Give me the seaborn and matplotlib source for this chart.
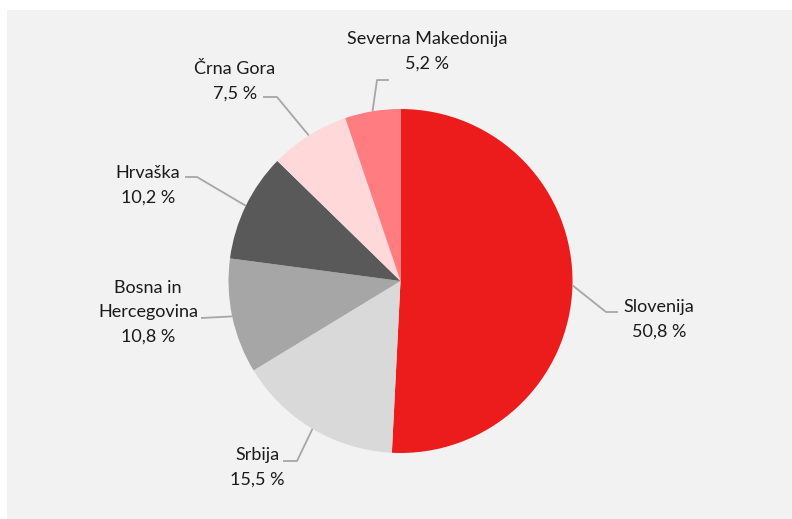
import numpy as np
import matplotlib
matplotlib.use("Agg")
import matplotlib.pyplot as plt
import seaborn as sns

# ---- data ----
countries = ["Slovenija", "Srbija", "Bosna in\nHercegovina", "Hrvaška", "Črna Gora", "Severna Makedonija"]
shares = [50.8, 15.5, 10.8, 10.2, 7.5, 5.2]
colors = ["#ED1C1C", "#D9D9D9", "#A6A6A6", "#595959", "#FFD9D9", "#FF7C80"]

sns.set_theme(style="white")
plt.rcParams["font.family"] = ["Lato", "DejaVu Sans"]

W, H = 792, 519
fig = plt.figure(figsize=(W / 100, H / 100), dpi=100)
fig.patch.set_facecolor("white")
ax = fig.add_axes([0, 0, 1, 1])
ax.set_xlim(0, W)
ax.set_ylim(0, H)
ax.set_aspect("equal")
ax.axis("off")

def py(y):
    return H - y

# grey panel
ax.add_patch(plt.Rectangle((7, py(519)), W - 7, 519 - 10, facecolor="#F2F2F2",
                           edgecolor="none", zorder=0))

cx, cy, r = 400.5, 281, 172
wedges, _ = ax.pie(shares, colors=colors, startangle=90, counterclock=False,
                   center=(cx, py(cy)), radius=r, frame=True,
                   wedgeprops=dict(linewidth=0))
ax.set_xlim(0, W)
ax.set_ylim(0, H)
ax.axis("off")

# label layout: (elbow point(s) in pixels, label center x, label first line y)
layout = {
    "Slovenija": ([(606, 312), (618, 312)], 659, 307),
    "Srbija": ([(297, 461), (283, 461)], 257, 455),
    "Bosna in\nHercegovina": ([(201, 318)], 148, 288),
    "Hrvaška": ([(197, 177), (185, 177)], 148, 173),
    "Črna Gora": ([(277, 97), (263, 97)], 235, 69),
    "Severna Makedonija": ([(377, 80), (389, 80)], 427, 39),
}
line_h = 24.5
for w, name, val in zip(wedges, countries, shares):
    ang = np.deg2rad((w.theta1 + w.theta2) / 2)
    ax_, ay_ = w.center[0] + r * np.cos(ang), w.center[1] + r * np.sin(ang)
    pts, lx, ly = layout[name]
    xs = [ax_] + [p[0] for p in pts]
    ys = [ay_] + [py(p[1]) for p in pts]
    ax.plot(xs, ys, color="#A6A6A6", lw=1.3, solid_capstyle="butt", zorder=3)
    lines = name.split("\n") + [f"{val:.1f} %".replace(".", ",")]
    for i, t in enumerate(lines):
        ax.text(lx, py(ly + i * line_h), t, ha="center", va="center",
                fontsize=13, color="#1A1A1A", zorder=4)

fig.savefig("out.png", dpi=100, facecolor="white")
